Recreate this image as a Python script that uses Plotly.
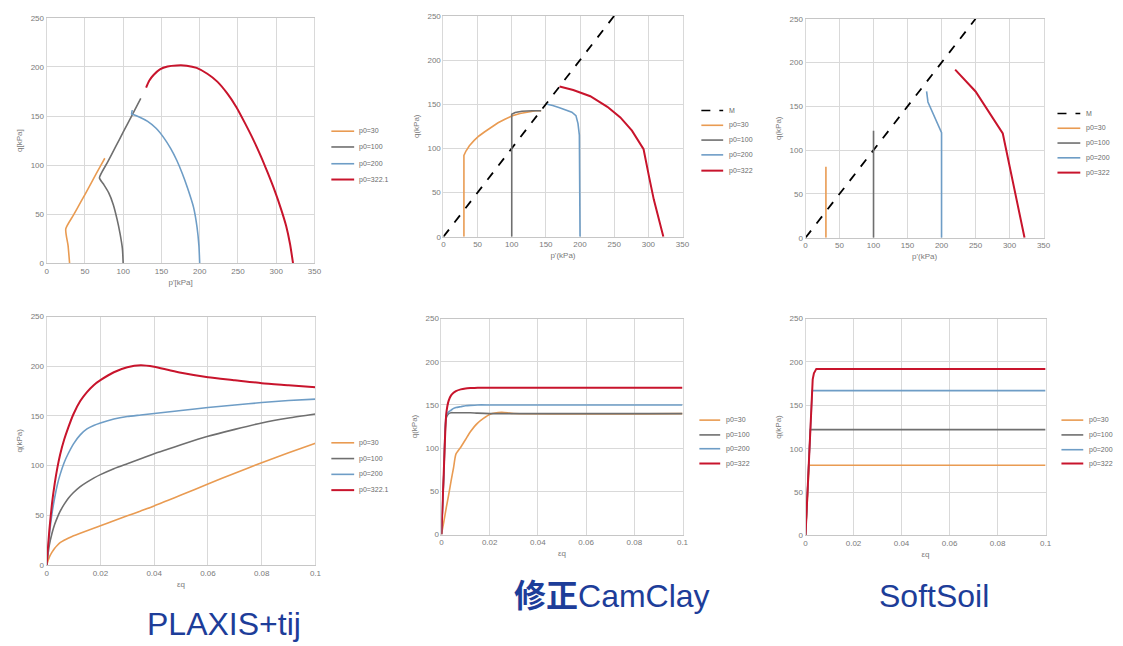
import plotly.graph_objects as go

W, H = 1123, 646

# ---------------- PLAXIS+tij : stress paths (p', q) ----------------
tij_p30 = [30, 28, 25, 35, 45, 55, 65, 71, 76]
tij_q30 = [0, 18, 35, 49, 63, 77, 91.5, 100, 107]
tij_p100 = [100, 99, 96, 92, 87, 81, 74, 69, 80, 90, 100, 111, 123]
tij_q100 = [0, 15, 30, 45, 60, 72, 81, 87, 103.5, 118.5, 133.5, 150, 168]
tij_p200 = [200, 199, 196.5, 192, 184, 177, 170, 162, 153, 143, 132, 121, 113, 111, 112]
tij_q200 = [0, 18, 37, 57, 77, 92, 105, 117, 128, 137.5, 144.5, 149, 151.5, 152, 156]
tij_p322 = [322, 318, 313, 306, 298, 289, 280, 270, 259, 248, 236, 223, 210, 196, 183, 170, 158, 148, 140, 134, 130]
tij_q322 = [0, 20, 38, 56, 74, 92, 109, 126, 143, 159, 173, 185, 193, 199, 201.3, 201.5, 200.5, 197.5, 192, 186, 179]

# ---------------- PLAXIS+tij : q vs eps_q ----------------
tij_eq = [0, 0.001, 0.002, 0.003, 0.004, 0.005, 0.0065, 0.008, 0.01, 0.0125, 0.015, 0.0175,
          0.02, 0.025, 0.03, 0.035, 0.04, 0.045, 0.05, 0.06, 0.07, 0.08, 0.09, 0.1]
tij_e30 = [0, 8, 13, 17, 20, 22.5, 25, 27, 29.5, 32, 34.5, 37, 39.5, 44.5, 49.5, 54.5, 59.5,
           65, 70.5, 81.5, 92.5, 103, 113, 122.5]
tij_e100 = [0, 20, 32, 41, 48, 54, 61, 67, 73, 79, 83.5, 87.5, 91, 97, 102, 107, 112, 116.5,
            121, 129.5, 136.5, 143, 148, 152]
tij_e200 = [0, 30, 52, 68, 81, 91, 103, 112, 122, 131, 137, 140.5, 143, 147, 149.5, 151,
            152.5, 154, 155.5, 158.5, 161, 163.5, 165.5, 167]
tij_e322 = [0, 35, 62, 82, 98, 111, 126, 138, 152, 165, 174, 181, 186, 194, 199, 201, 199.5,
            196.5, 193.5, 189, 186, 183, 181, 179]

# ---------------- Modified Cam Clay : stress paths ----------------
m_line_p = [0, 250]
m_line_q = [0, 250]
mcc_p30 = [30, 30, 33, 38, 45, 52, 60, 70, 80, 90, 100, 112, 125, 135, 143]
mcc_q30 = [0, 92, 97, 103, 109, 114, 118.5, 124, 129, 133, 136.5, 139.5, 141.5, 142.5, 142.5]
mcc_p100 = [100, 100, 105, 115, 130, 143]
mcc_q100 = [0, 138.5, 140.5, 142, 142.5, 142.5]
mcc_p200 = [200, 200, 199, 197, 194, 188, 180, 170, 160, 152]
mcc_q200 = [0, 96, 115, 128, 137, 141, 143.5, 146, 148.5, 150]
mcc_p322 = [322, 315, 308, 301, 293, 276, 259, 240, 215, 190, 170]
mcc_q322 = [0, 20, 42, 68, 99, 120, 135, 147, 159, 166, 170]

# ---------------- Modified Cam Clay : q vs eps_q ----------------
mcc_eq = [0, 0.001, 0.002, 0.003, 0.004, 0.005, 0.006, 0.008, 0.01, 0.012, 0.015, 0.02, 0.025, 0.03, 0.1]
mcc_e30 = [0, 15, 31, 46, 62, 77, 93, 101, 110, 119, 129, 139, 141.5, 140, 140]
mcc_e100 = [0, 70, 135, 140, 141, 141, 141, 141, 141, 141, 140.5, 140, 140, 140, 140]
mcc_e200 = [0, 72, 138, 142, 144, 146, 147, 148, 149, 149.5, 150, 150, 150, 150, 150]
mcc_e322 = [0, 75, 140, 155, 161, 164, 166, 168, 169, 169.5, 170, 170, 170, 170, 170]

# ---------------- Soft Soil : stress paths ----------------
ss_p30 = [30, 30]
ss_q30 = [0, 81]
ss_p100 = [100, 100]
ss_q100 = [0, 122]
ss_p200 = [200, 200, 180, 178]
ss_q200 = [0, 120, 155, 167]
ss_p322 = [322, 290, 250, 220]
ss_q322 = [0, 119, 167, 192]

# ---------------- Soft Soil : q vs eps_q ----------------
ss_eq30 = [0, 0.0015, 0.1]
ss_e30 = [0, 81, 81]
ss_eq100 = [0, 0.002, 0.1]
ss_e100 = [0, 122, 122]
ss_eq200 = [0, 0.0028, 0.1]
ss_e200 = [0, 167, 167]
ss_eq322 = [0, 0.003, 0.0035, 0.004, 0.0045, 0.1]
ss_e322 = [0, 180, 187, 190.5, 192, 192]

labels_tij = ["p0=30", "p0=100", "p0=200", "p0=322.1"]
labels_mod = ["M", "p0=30", "p0=100", "p0=200", "p0=322"]
model_titles = ["PLAXIS+tij", "<b>修正</b>CamClay", "SoftSoil"]

ORANGE = "#e99b52"
GRAY = "#6f6f6f"
BLUE = "#6e9dc6"
RED = "#c8142c"
COLORS = [ORANGE, GRAY, BLUE, RED]

GRID = "#d9d9d9"
TICK = "#7a7a7a"
FONT = "Liberation Sans, Arial, Noto Sans CJK SC, sans-serif"

fig = go.Figure()


def add(axis_id, xs, ys, color, name, width=1.6, dash=None, shape="linear"):
    sfx = "" if axis_id == 1 else str(axis_id)
    fig.add_trace(go.Scatter(
        x=xs, y=ys, mode="lines", name=name, showlegend=False,
        line=dict(color=color, width=width, dash=dash, shape=shape, smoothing=0.6),
        xaxis="x" + sfx, yaxis="y" + sfx, hoverinfo="x+y+name"))


# panel 1: PLAXIS+tij stress paths
for xs, ys, c, n in zip([tij_p30, tij_p100, tij_p200, tij_p322],
                        [tij_q30, tij_q100, tij_q200, tij_q322], COLORS, labels_tij):
    add(1, xs, ys, c, n, width=2.0 if c == RED else 1.6, shape="spline")

# panel 2: Modified Cam Clay stress paths
add(2, m_line_p, m_line_q, "black", "M", width=1.8, dash="dash")
for xs, ys, c, n in zip([mcc_p30, mcc_p100, mcc_p200, mcc_p322],
                        [mcc_q30, mcc_q100, mcc_q200, mcc_q322], COLORS, labels_mod[1:]):
    add(2, xs, ys, c, n, width=2.0 if c == RED else 1.6)

# panel 3: Soft Soil stress paths
add(3, m_line_p, m_line_q, "black", "M", width=1.8, dash="dash")
for xs, ys, c, n in zip([ss_p30, ss_p100, ss_p200, ss_p322],
                        [ss_q30, ss_q100, ss_q200, ss_q322], COLORS, labels_mod[1:]):
    add(3, xs, ys, c, n, width=2.0 if c == RED else 1.6)

# panel 4: PLAXIS+tij q - eps_q
for ys, c, n in zip([tij_e30, tij_e100, tij_e200, tij_e322], COLORS, labels_tij):
    add(4, tij_eq, ys, c, n, width=2.0 if c == RED else 1.6, shape="spline")

# panel 5: Modified Cam Clay q - eps_q
for ys, c, n in zip([mcc_e30, mcc_e100, mcc_e200, mcc_e322], COLORS, labels_mod[1:]):
    add(5, mcc_eq, ys, c, n, width=2.0 if c == RED else 1.6, shape="spline")

# panel 6: Soft Soil q - eps_q
for xs, ys, c, n in zip([ss_eq30, ss_eq100, ss_eq200, ss_eq322],
                        [ss_e30, ss_e100, ss_e200, ss_e322], COLORS, labels_mod[1:]):
    add(6, xs, ys, c, n, width=2.0 if c == RED else 1.6)

# plot-area boxes in pixels: (left, right, top, bottom)
boxes = [(45, 315, 14, 263), (445, 686, 12, 236), (810, 1050, 15, 237),
         (45, 316, 317, 569), (443, 686, 319, 538), (810, 1052, 319, 539)]
xtitles = ["p'[kPa]", "p'(kPa)", "p'(kPa)", "εq", "εq", "εq"]
ytitles = ["q[kPa]", "q(kPa)", "q(kPa)", "q(kPa)", "q(kPa)", "q(kPa)"]

layout = dict(
    width=W, height=H, margin=dict(l=0, r=0, t=0, b=0),
    paper_bgcolor="white", plot_bgcolor="white",
    font=dict(family=FONT, color=TICK, size=8),
    showlegend=False,
)

for i, (l, r, t, b) in enumerate(boxes, start=1):
    sfx = "" if i == 1 else str(i)
    stress = i <= 3
    layout["xaxis" + sfx] = dict(
        domain=[l / W, r / W], anchor="y" + sfx,
        range=[0, 350] if stress else [0, 0.1], dtick=50 if stress else 0.02,
        showgrid=True, gridcolor=GRID, gridwidth=1, zeroline=False,
        showline=True, linecolor="#c6c6c6", mirror=True, ticks="",
        tickfont=dict(size=8, color=TICK),
        title=dict(text=xtitles[i - 1], font=dict(size=8, color=TICK), standoff=4),
    )
    layout["yaxis" + sfx] = dict(
        domain=[1 - b / H, 1 - t / H], anchor="x" + sfx,
        range=[0, 250], dtick=50,
        showgrid=True, gridcolor=GRID, gridwidth=1, zeroline=False,
        showline=True, linecolor=GRID, mirror=True, ticks="",
        tickfont=dict(size=8, color=TICK),
        title=dict(text=ytitles[i - 1], font=dict(size=8, color=TICK), standoff=6),
    )

fig.update_layout(**layout)

# hand-drawn legends: (line x0, line x1, text x, row y positions) in pixels
legends = [
    (332, 355, 358, [129, 145, 162, 178], labels_tij, COLORS, [None] * 4),
    (705, 727, 731, [108, 123, 138, 153, 169], labels_mod, ["black"] + COLORS, ["dash"] + [None] * 4),
    (1064, 1087, 1091, [111, 126, 141, 156, 171], labels_mod, ["black"] + COLORS, ["dash"] + [None] * 4),
    (332, 355, 358, [445, 461, 477, 493], labels_tij, COLORS, [None] * 4),
    (703, 724, 728, [422, 437, 451, 466], labels_mod[1:], COLORS, [None] * 4),
    (1068, 1090, 1094, [422, 437, 452, 466], labels_mod[1:], COLORS, [None] * 4),
]
shapes = []
annotations = []
for x0, x1, xt, rows, labs, cols, dashes in legends:
    for yy, lab, col, dsh in zip(rows, labs, cols, dashes):
        shapes.append(dict(type="line", xref="paper", yref="paper",
                           x0=x0 / W, x1=x1 / W, y0=1 - yy / H, y1=1 - yy / H,
                           line=dict(color=col, width=2.0 if col == RED else 1.6, dash=dsh)))
        annotations.append(dict(text=lab, xref="paper", yref="paper", x=xt / W, y=1 - yy / H,
                                xanchor="left", yanchor="middle", showarrow=False,
                                font=dict(size=7, color="#6a6a6a", family=FONT)))

# model names under the lower row
for txt, cx, cy in zip(model_titles, [224, 615, 940], [629, 600, 600]):
    annotations.append(dict(text=txt, xref="paper", yref="paper", x=cx / W, y=1 - cy / H,
                            xanchor="center", yanchor="middle", showarrow=False,
                            font=dict(size=32, color="#1d3d99", family=FONT)))

fig.update_layout(shapes=shapes, annotations=annotations)
fig.write_html("out.html")
